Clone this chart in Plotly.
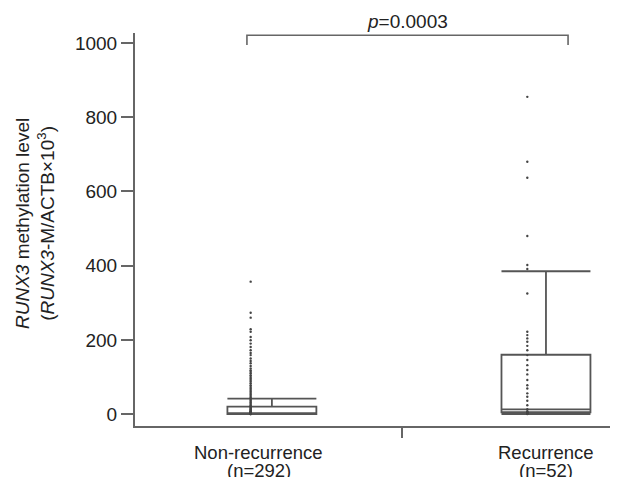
import plotly.graph_objects as go

# ---- data ----
categories = ["Non-recurrence", "Recurrence"]
n_labels = ["(n=292)", "(n=52)"]
cat_pos = [0, 1]
box_pos = [0.045, 1.0]
q1 = [0, 5]
median = [2, 13]
q3 = [20, 160]
lowerfence = [0, 0]
upperfence = [42, 385]

nonrec_values = [357, 273, 260, 229, 222, 208, 199, 190, 181, 172, 165, 159, 150, 143, 137,
                 130, 123, 118, 114, 110, 105, 100, 96, 92, 88, 83, 78, 73, 69, 65, 61, 57,
                 53, 49, 45, 42, 39, 36, 33, 30, 27, 24, 21, 19, 17, 15, 13, 11, 9, 8, 7, 6,
                 5, 4, 3, 2, 2, 1, 1, 0, 0, 0]
rec_values = [855, 680, 637, 480, 402, 391, 325, 222, 213, 204, 195, 184, 172, 159, 146,
              132, 119, 107, 92, 78, 69, 56, 47, 36, 24, 13, 8, 5, 3, 2, 1, 0]
nonrec_dot_x = -0.029
rec_dot_x = 0.935
p_text = "<i>p</i>=0.0003"
bracket_x = [-0.042, -0.042, 1.077, 1.077]
bracket_y = [995, 1021, 1021, 995]

FONT = "Liberation Sans, Arial, sans-serif"
TXT = "#222222"
LINE = "#666666"

fig = go.Figure()

fig.add_trace(go.Box(
    x=box_pos, q1=q1, median=median, q3=q3,
    lowerfence=lowerfence, upperfence=upperfence,
    width=0.31, whiskerwidth=1,
    line=dict(color="#555555", width=1.8),
    fillcolor="rgba(0,0,0,0)",
    boxpoints=False, showlegend=False, hoverinfo="skip",
))

fig.add_trace(go.Scatter(
    x=[nonrec_dot_x] * len(nonrec_values), y=nonrec_values,
    mode="markers", marker=dict(size=2.4, color="#444444"),
    showlegend=False, hoverinfo="skip",
))
fig.add_trace(go.Scatter(
    x=[rec_dot_x] * len(rec_values), y=rec_values,
    mode="markers", marker=dict(size=2.4, color="#444444"),
    showlegend=False, hoverinfo="skip",
))

fig.add_trace(go.Scatter(
    x=bracket_x, y=bracket_y, mode="lines",
    line=dict(color=LINE, width=1.6), cliponaxis=False,
    showlegend=False, hoverinfo="skip",
))

fig.add_annotation(
    text=p_text, xref="x", yref="paper", x=0.516, y=1.0305,
    xanchor="center", yanchor="middle", showarrow=False,
    font=dict(family=FONT, size=19, color=TXT),
)

# category labels (two lines each)
for xp, name, nl in zip(cat_pos, categories, n_labels):
    fig.add_annotation(
        text=name, xref="x", yref="paper", x=xp, y=-0.0662,
        xanchor="center", yanchor="middle", showarrow=False,
        font=dict(family=FONT, size=18.5, color=TXT),
    )
    fig.add_annotation(
        text=nl, xref="x", yref="paper", x=xp, y=-0.112,
        xanchor="center", yanchor="middle", showarrow=False,
        font=dict(family=FONT, size=18.5, color=TXT),
    )

fig.add_annotation(
    text="<i>RUNX3</i> methylation level<br>(<i>RUNX3</i>-M/ACTB×10<sup>3</sup>)",
    xref="paper", yref="paper", x=-0.207, y=0.514,
    xanchor="center", yanchor="middle", textangle=-90, showarrow=False,
    font=dict(family=FONT, size=19, color=TXT),
)

# page body has an 8px margin: figure is 610x469 so plot area lands at (135..618, 33..426)
fig.update_layout(
    width=610, height=469,
    margin=dict(l=127, r=0, t=25, b=51),
    paper_bgcolor="white", plot_bgcolor="white",
    font=dict(family=FONT, size=19, color=TXT),
    xaxis=dict(
        range=[-0.432, 1.251], tickvals=cat_pos, showticklabels=False,
        ticks="", showline=True, linecolor=LINE, linewidth=2,
        showgrid=False, zeroline=False, automargin=False,
        minor=dict(tickvals=[0.5], ticks="outside", ticklen=10, tickcolor=LINE, tickwidth=1.5),
    ),
    yaxis=dict(
        range=[-32, 1027], tickvals=[0, 200, 400, 600, 800, 1000],
        ticks="outside", ticklen=12, tickcolor=LINE, tickwidth=1.5,
        showline=True, linecolor=LINE, linewidth=2,
        showgrid=False, zeroline=False, automargin=False,
        tickfont=dict(family=FONT, size=19, color=TXT),
    ),
)

fig.write_html("out.html")
